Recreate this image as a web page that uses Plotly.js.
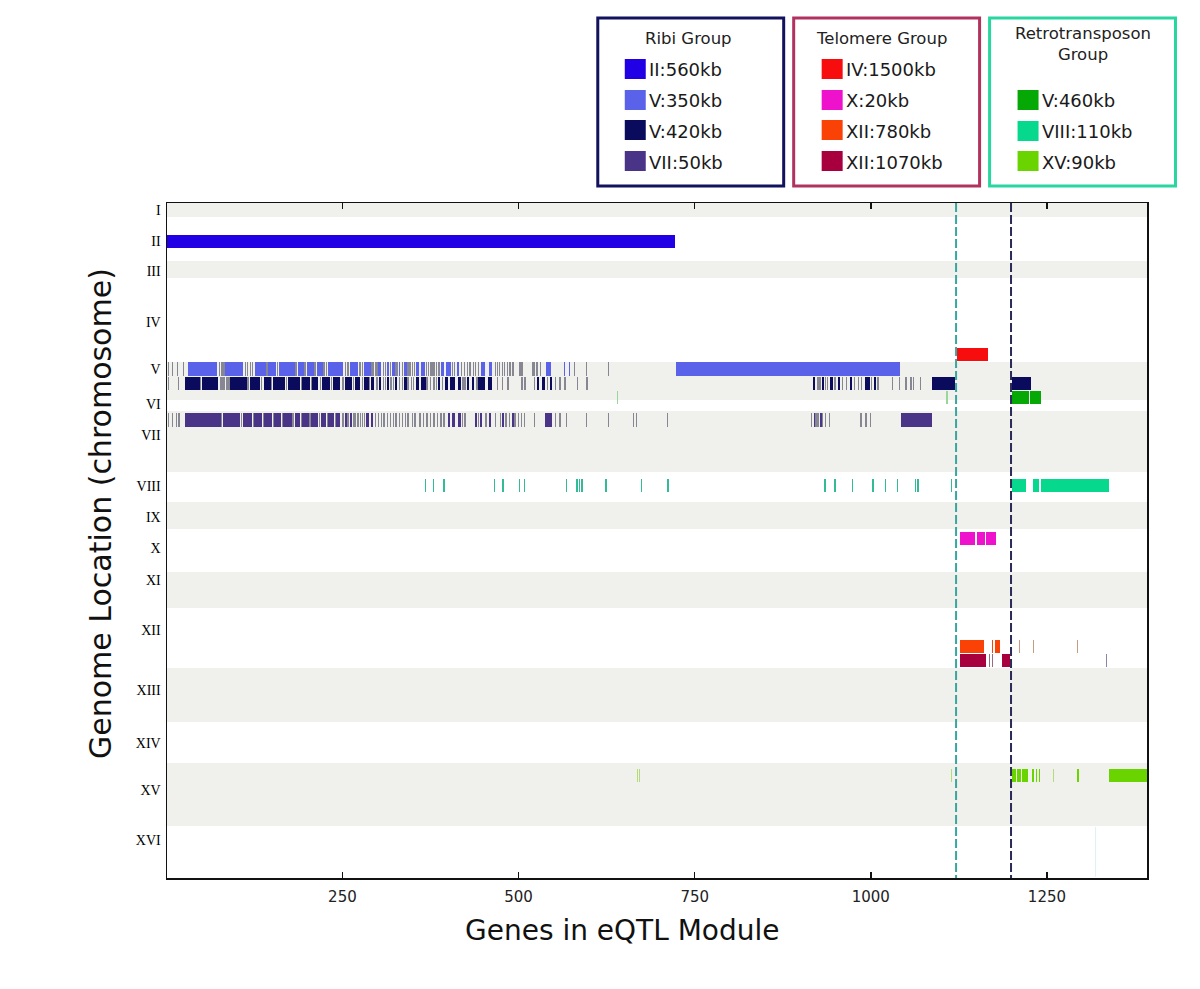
<!DOCTYPE html>
<html><head><meta charset="utf-8">
<script src="https://cdn.plot.ly/plotly-3.0.1.min.js"></script>
<style>html,body{margin:0;padding:0;background:#fff}#chart{width:1200px;height:989px}</style>
</head><body><div id="chart"></div>
<script>
// ---------------- data ----------------
const chromosomes   = ["I","II","III","IV","V","VI","VII","VIII","IX","X","XI","XII","XIII","XIV","XV","XVI"];
const chromLengthKb = [250,787,304,1497,685,197,1091,536,483,769,644,1073,966,733,1127,930];
const chromLabelKb  = [125,680,1216,2128,2968,3594,4148,5060,5614,6169,6741,7635,8708,9655,10496,11390];
const geneTicks     = [250,500,750,1000,1250];
const geneCount     = 1392;
const moduleBoundaries = [1121,1199];

const groupTitles  = ["Ribi Group","Telomere Group","Retrotransposon<br>Group"];
const ribiLabels   = ["II:560kb","V:350kb","V:420kb","VII:50kb"];
const ribiColors   = ["#2100e6","#5b62ea","#0b0b5e","#4a3487"];
const teloLabels   = ["IV:1500kb","X:20kb","XII:780kb","XII:1070kb"];
const teloColors   = ["#f70d0d","#ee12cc","#fa4207","#a8003f"];
const retroLabels  = ["V:460kb","VIII:110kb","XV:90kb"];
const retroColors  = ["#05a805","#06d88e","#6ad400"];

// genome location (kb, cumulative) of each module's track
const rowKb = {II560:689, IV1500:2709, V350:2969, V420:3228, V460:3478, VII50:3881,
               VIII110:5049, X20:5996, XII780:7934, XII1070:8185, XV90:10241};

// gene index ranges [start,end] and single-gene lines
const segII560 = [[1,722]];
const segV350 = [[31,72],[84,109],[126,142],[145,155],[160,182],[187,196],[200,209],[214,223],[230,251],[261,272],[281,290],[301,305],[313,316],[321,324],[330,332],[338,341],[354,358],[361,367],[390,394],[397,404],[412,415],[446,452],[458,463],[539,546],[564,566],[571,573],[723,1042]];
const greyV350 = [3,9,16,24,75,79,82,112,115,119,122,136,143,158,184,197,211,224,227,254,257,259,274,276,279,292,294,297,299,308,311,318,326,328,335,343,346,349,352,369,372,375,377,380,383,386,388,406,409,419,423,427,431,436,439,443,467,470,473,477,480,484,488,492,502,505,520,522,526,531,579,596,628];
const segV420 = [[26,48],[51,74],[91,115],[119,133],[138,148],[152,169],[173,190],[193,204],[207,216],[221,233],[237,247],[254,264],[268,275],[281,287],[291,295],[302,305],[313,316],[325,328],[338,341],[355,358],[362,368],[385,389],[396,400],[403,410],[414,419],[427,430],[434,437],[443,453],[457,463],[526,529],[533,538],[545,548],[918,921],[931,934],[942,946],[953,956],[970,973],[992,999],[1004,1007],[1087,1119],[1200,1227]];
const greyV420 = [3,17,49,77,79,82,85,87,89,116,135,149,171,192,206,219,234,250,252,266,278,288,298,300,308,311,319,322,331,335,343,348,351,370,375,380,383,392,421,424,441,470,477,485,505,509,523,541,552,559,566,584,597,925,928,936,939,949,960,965,977,982,987,1001,1010,1031,1041,1050,1057,1061,1070];
const segVII50 = [[26,77],[80,105],[109,122],[125,136],[139,150],[153,163],[166,179],[182,190],[193,203],[206,216],[219,227],[230,238],[241,247],[253,256],[261,264],[284,288],[291,294],[400,403],[406,410],[414,419],[438,441],[445,448],[458,461],[477,480],[490,493],[538,548],[919,921],[928,930],[1043,1087]];
const greyVII50 = [3,9,14,18,78,107,124,138,152,165,180,192,204,217,229,240,250,252,258,266,268,271,273,276,278,281,297,301,305,309,314,318,322,326,331,335,339,343,349,353,360,365,370,375,380,385,390,394,420,424,443,453,455,467,474,482,487,495,500,504,508,523,552,559,568,596,628,663,667,711,916,922,925,931,936,941,986,993,1000];
const segIV1500 = [[1123,1167]];
const segX20 = [[1126,1148],[1150,1162],[1164,1178]];
const segXII780 = [[1126,1150],[1151,1160],[1178,1184]];
const linesXII780 = [1173,1177];
const paleXII780 = [1211,1231,1293];
const segXII1070 = [[1126,1163],[1186,1198]];
const linesXII1070 = [1168,1173];
const greyXII1070 = [1335];
const segV460 = [[1200,1224],[1226,1241]];
const paleV460 = [640,1108];
const segVIII110 = [[1200,1220],[1230,1238],[1241,1338]];
const linesVIII110 = [368,379,394,466,478,501,508,568,583,587,590,624,675,712,935,949,974,1003,1021,1038,1063,1067,1115];
const segXV90 = [[1200,1206],[1207,1213],[1214,1223],[1338,1392]];
const linesXV90 = [1230,1235,1239,1294];
const paleXV90 = [669,672,1115,1259];
const faintXVI = [[1319, 11160, 12050]];

// ---------------- build ----------------
const TRACK = 240;      // track thickness (kb)
const LINEW = 1.8;      // single gene line width (genes)
const GREY = "rgba(100,100,118,0.75)";
const traces = [];

// chromosome bands
const starts = []; let acc = 0;
chromLengthKb.forEach(l => { starts.push(acc); acc += l; });
const genomeKb = acc;
traces.push({type:'bar', orientation:'h',
  y: chromLengthKb.map((l,i)=>starts[i]+l/2), x: chromLengthKb.map(()=>geneCount+10), base: chromLengthKb.map(()=>-5),
  width: chromLengthKb, marker:{color: chromLengthKb.map((l,i)=> i%2===0 ? 'rgb(240,240,236)' : 'rgb(255,255,255)'), line:{width:0}},
  hoverinfo:'skip', showlegend:false});

function segTrace(segs, row, color, thick){
  return {type:'bar', orientation:'h', base: segs.map(s=>s[0]), x: segs.map(s=>s[1]-s[0]),
    y: segs.map(()=>row), width: thick||TRACK, marker:{color:color, line:{width:0}},
    hoverinfo:'skip', showlegend:false};
}
function lineTrace(pts, row, color){
  return segTrace(pts.map(p=>[p-LINEW/2, p+LINEW/2]), row, color);
}

traces.push(segTrace(segII560, rowKb.II560, ribiColors[0]));
traces.push(lineTrace(greyV350, rowKb.V350, GREY));
traces.push(segTrace(segV350, rowKb.V350, ribiColors[1]));
traces.push(lineTrace(greyV420, rowKb.V420, GREY));
traces.push(segTrace(segV420, rowKb.V420, ribiColors[2]));
traces.push(lineTrace(greyVII50, rowKb.VII50, GREY));
traces.push(segTrace(segVII50, rowKb.VII50, ribiColors[3]));
traces.push(segTrace(segIV1500, rowKb.IV1500, teloColors[0]));
traces.push(segTrace(segX20, rowKb.X20, teloColors[1]));
traces.push(segTrace(segXII780, rowKb.XII780, teloColors[2]));
traces.push(lineTrace(linesXII780, rowKb.XII780, teloColors[2]));
traces.push(lineTrace(paleXII780, rowKb.XII780, "#c99a82"));
traces.push(segTrace(segXII1070, rowKb.XII1070, teloColors[3]));
traces.push(lineTrace(linesXII1070, rowKb.XII1070, "#9a6a80"));
traces.push(lineTrace(greyXII1070, rowKb.XII1070, "#8a86a6"));
traces.push(segTrace(segV460, rowKb.V460, retroColors[0]));
traces.push(lineTrace(paleV460, rowKb.V460, "#9ad69a"));
traces.push(segTrace(segVIII110, rowKb.VIII110, retroColors[1]));
traces.push(lineTrace(linesVIII110, rowKb.VIII110, "#33bb98"));
traces.push(segTrace(segXV90, rowKb.XV90, retroColors[2]));
traces.push(lineTrace(linesXV90, rowKb.XV90, retroColors[2]));
traces.push(lineTrace(paleXV90, rowKb.XV90, "#b4dc78"));
faintXVI.forEach(f => traces.push({type:'scatter', mode:'lines', x:[f[0],f[0]], y:[f[1],f[2]],
  line:{color:'#dff2f2', width:1}, hoverinfo:'skip', showlegend:false}));

// module boundary dashed lines
const dashColors = ["#3aa69e", "#2b2b58"];
moduleBoundaries.forEach((b,i) => traces.push({type:'scatter', mode:'lines', x:[b,b], y:[0,genomeKb],
  line:{color:dashColors[i], width:2, dash:'9px,3px'}, hoverinfo:'skip', showlegend:false}));

// ---------------- layout ----------------
const L = 167, R = 52.5, T = 203, B = 111, W = 1200, H = 989;
const PW = W-L-R, PH = H-T-B;
const px = x => (x-L)/PW;
const py = y => (H-B-y)/PH;
const SANS = 'DejaVu Sans, Verdana, sans-serif';

const shapes = [], annotations = [];
const boxes = [
  {x0:598, x1:784, border:"#12125e", title:groupTitles[0], tx:689, ty:38, labels:ribiLabels, colors:ribiColors, sx:625, rows:[69,100,130,161]},
  {x0:794, x1:980, border:"#b2325f", title:groupTitles[1], tx:882, ty:38, labels:teloLabels, colors:teloColors, sx:822, rows:[69,100,130,161]},
  {x0:990, x1:1176, border:"#2ad6a0", title:groupTitles[2], tx:1083, ty:44, labels:retroLabels, colors:retroColors, sx:1018, rows:[100,131,161]}
];
boxes.forEach(bx => {
  shapes.push({type:'rect', xref:'paper', yref:'paper', x0:px(bx.x0), x1:px(bx.x1), y0:py(186), y1:py(18),
    line:{color:bx.border, width:3}, fillcolor:'rgba(0,0,0,0)', layer:'above'});
  annotations.push({xref:'paper', yref:'paper', x:px(bx.tx), y:py(bx.ty), text:bx.title, showarrow:false,
    xanchor:'center', yanchor:'middle', font:{family:SANS, size:16.5, color:'#222'}});
  bx.labels.forEach((lab,i) => {
    const cy = bx.rows[i];
    shapes.push({type:'rect', xref:'paper', yref:'paper', x0:px(bx.sx), x1:px(bx.sx+21), y0:py(cy+10), y1:py(cy-10),
      line:{width:0}, fillcolor:bx.colors[i], layer:'above'});
    annotations.push({xref:'paper', yref:'paper', x:px(bx.sx+22), y:py(cy+1), text:lab, showarrow:false,
      xanchor:'left', yanchor:'middle', font:{family:SANS, size:18, color:'#1a1a1a'}});
  });
});

annotations.push({xref:'paper', yref:'paper', x:px(623), y:py(930), text:'Genes in eQTL Module', showarrow:false,
  xanchor:'center', yanchor:'middle', font:{family:SANS, size:28, color:'#111'}});
annotations.push({xref:'paper', yref:'paper', x:px(100), y:py(514), text:'Genome Location (chromosome)', showarrow:false,
  textangle:-90, xanchor:'center', yanchor:'middle', font:{family:SANS, size:30, color:'#111'}});

const layout = {
  width:W, height:H, margin:{l:L, r:R, t:T, b:B, pad:0},
  paper_bgcolor:'#fff', plot_bgcolor:'#fff',
  barmode:'overlay', bargap:0, showlegend:false,
  xaxis:{range:[1, geneCount], tickvals:geneTicks, ticktext:geneTicks.map(String), ticks:'inside', ticklen:6, tickwidth:1.5,
    tickcolor:'#111', showline:true, linecolor:'#111', linewidth:1.5, mirror:'ticks', showgrid:false, zeroline:false,
    tickfont:{family:SANS, size:15, color:'#222'}, ticklabelstandoff:4},
  yaxis:{range:[genomeKb, 0], tickvals:chromLabelKb, ticktext:chromosomes, ticks:'', showline:true, linecolor:'#111', linewidth:1.5,
    mirror:true, showgrid:false, zeroline:false, ticklabelstandoff:2,
    tickfont:{family:'Liberation Serif, Times New Roman, serif', size:14, color:'#000'}},
  shapes:shapes, annotations:annotations
};

Plotly.newPlot('chart', traces, layout, {staticPlot:true, displayModeBar:false});
</script></body></html>
